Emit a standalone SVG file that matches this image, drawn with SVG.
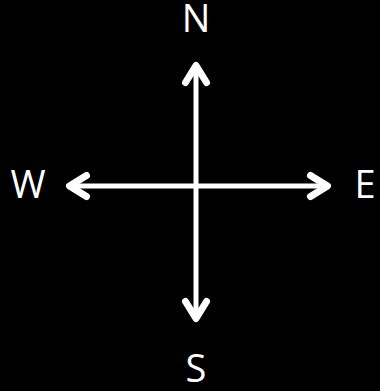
<svg xmlns="http://www.w3.org/2000/svg" width="380" height="391" viewBox="0 0 380 391">
<style>
.ln{stroke:#fff;stroke-width:5;fill:none;stroke-linecap:round;stroke-linejoin:round}
.hd{stroke:#fff;stroke-width:7;fill:none;stroke-linecap:round;stroke-linejoin:round}
.lb{font-family:"Open Sans","Liberation Sans",sans-serif;font-size:38px;fill:#fff;text-anchor:middle}
</style>
<rect width="380" height="391" fill="#000"/>
<g id="connectors">
<path class="ln" d="M196 66V318"/>
<path class="ln" d="M70 186H327"/>
<path class="hd" d="M185.5 82.5L196 65.5L206.5 82.5"/>
<path class="hd" d="M185.5 301.5L196 318.5L206.5 301.5"/>
<path class="hd" d="M86.5 175.5L69.5 186L86.5 196.5"/>
<path class="hd" d="M310.5 175.5L327.5 186L310.5 196.5"/>
</g>
<g id="N"><text class="lb" x="196" y="32">N</text></g>
<g id="S"><text class="lb" x="196" y="382">S</text></g>
<g id="W"><text class="lb" x="28" y="198">W</text></g>
<g id="E"><text class="lb" x="365" y="198">E</text></g>
</svg>
